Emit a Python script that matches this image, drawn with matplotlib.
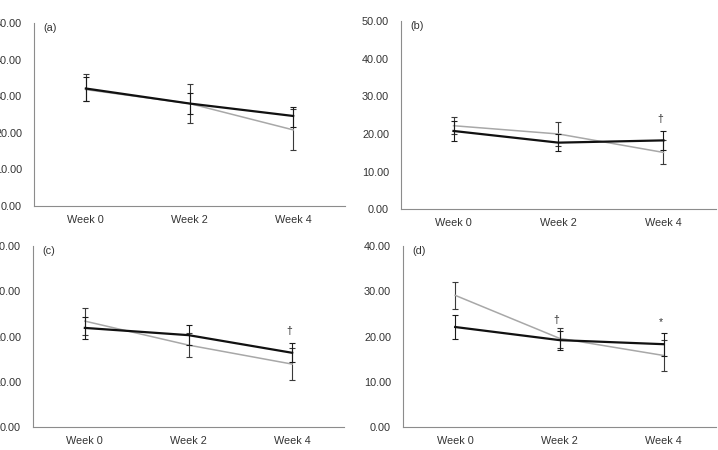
import numpy as np
import matplotlib.pyplot as plt
from matplotlib.ticker import FormatStrFormatter, MultipleLocator

plt.rcParams['font.family'] = ['Liberation Sans', 'DejaVu Sans']
plt.rcParams['font.size'] = 7.8

# data
weeks = ["Week 0", "Week 2", "Week 4"]

# (a)  errors given as [lower, upper]
a_black = [32.1, 28.0, 24.6]
a_black_err = [[3.3, 2.8, 2.9], [3.1, 2.8, 2.5]]
a_grey = [31.8, 28.0, 20.8]
a_grey_err = [[3.1, 5.2, 5.5], [4.3, 5.2, 5.7]]

# (b)
b_black = [20.8, 17.7, 18.3]
b_black_err = [2.6, 2.3, 2.5]
b_grey = [22.2, 20.0, 15.1]
b_grey_err = [2.3, 3.1, 3.2]

# (c)
c_black = [21.9, 20.3, 16.4]
c_black_err = [2.5, 2.2, 2.1]
c_grey = [23.4, 18.1, 13.9]
c_grey_err = [3.0, 2.6, 3.5]

# (d)
d_black = [22.1, 19.2, 18.3]
d_black_err = [2.6, 2.1, 2.5]
d_grey = [29.1, 19.6, 15.8]
d_grey_err = [2.95, 2.2, 3.5]

panel_labels = ["(a)", "(b)", "(c)", "(d)"]
panel_ymax = [50, 50, 40, 40]

# significance marks: (panel index, x index, y value, symbol)
marks = [(1, 2, 24.1, "\u2020"), (2, 2, 21.2, "\u2020"),
         (3, 1, 23.6, "\u2020"), (3, 2, 23.1, "*")]

black_series = [(a_black, a_black_err), (b_black, b_black_err),
                (c_black, c_black_err), (d_black, d_black_err)]
grey_series = [(a_grey, a_grey_err), (b_grey, b_grey_err),
               (c_grey, c_grey_err), (d_grey, d_grey_err)]

# axes boxes in figure fractions (left, bottom, width, height)
boxes = [(0.0474, 0.5422, 0.4331, 0.4067),
         (0.5585, 0.5349, 0.4387, 0.4184),
         (0.0460, 0.0511, 0.4331, 0.4022),
         (0.5613, 0.0511, 0.4359, 0.4022)]

fig = plt.figure(figsize=(7.18, 4.5), dpi=100)
x = np.arange(len(weeks))
axis_col = '#8c8c8c'
text_col = '#333333'

for i in range(4):
    ax = fig.add_axes(boxes[i])
    gm, ge = grey_series[i]
    bm, be = black_series[i]
    ax.errorbar(x, gm, yerr=ge, color='#a8a8a8', lw=1.1, ecolor='#3a3a3a',
                elinewidth=0.8, capsize=2.4, capthick=0.8, zorder=2)
    ax.errorbar(x, bm, yerr=be, color='#111111', lw=1.6, ecolor='#1a1a1a',
                elinewidth=0.8, capsize=2.4, capthick=0.8, zorder=3)
    ax.set_xlim(-0.5, len(weeks) - 0.5)
    ax.set_ylim(0, panel_ymax[i])
    ax.set_xticks(x)
    ax.set_xticklabels(weeks)
    ax.yaxis.set_major_locator(MultipleLocator(10))
    ax.yaxis.set_major_formatter(FormatStrFormatter('%.2f'))
    ax.tick_params(axis='both', length=0, colors=text_col)
    ax.tick_params(axis='y', pad=8.6)
    ax.tick_params(axis='x', pad=6.5)
    for s in ['top', 'right']:
        ax.spines[s].set_visible(False)
    for s in ['left', 'bottom']:
        ax.spines[s].set_color(axis_col)
        ax.spines[s].set_linewidth(0.8)
    ax.text(0.03, 1.0, panel_labels[i], transform=ax.transAxes,
            ha='left', va='top', color=text_col)
    for p, xi, yv, sym in marks:
        if p == i:
            ax.text(xi - 0.03, yv, sym, ha='center', va='center',
                    color=text_col, fontsize=7.5)

fig.savefig('out.png', dpi=100)
